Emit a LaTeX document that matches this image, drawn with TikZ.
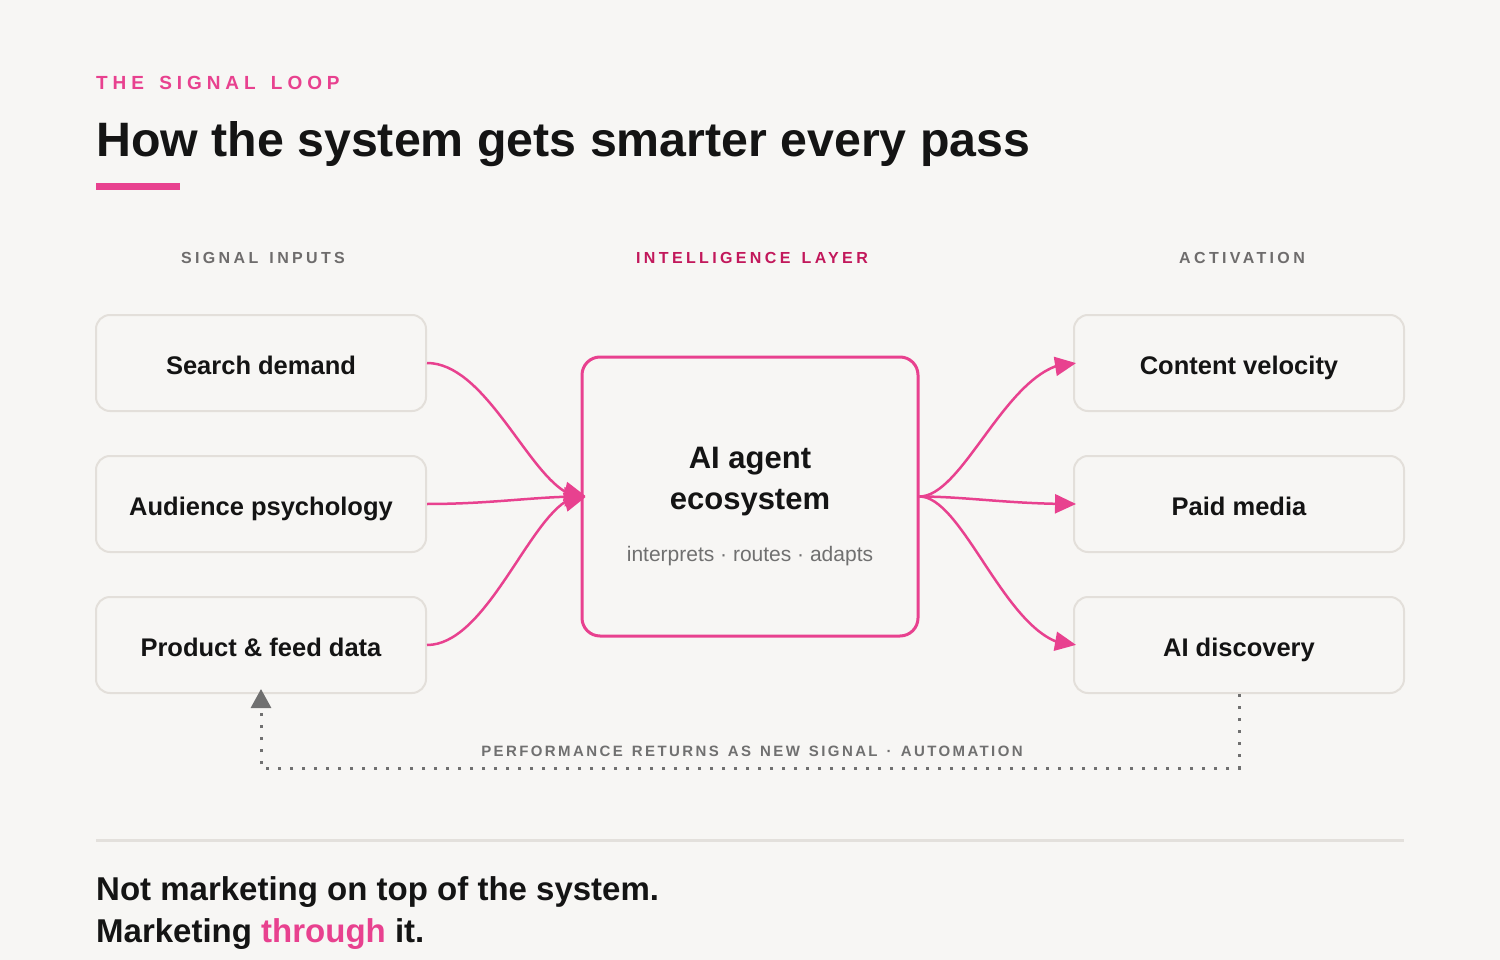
\documentclass[tikz,border=0pt]{standalone}
\usepackage{fontspec}
\setmainfont{Liberation Sans}
\usetikzlibrary{arrows.meta,bending}
\definecolor{bg}{HTML}{F7F6F4}
\definecolor{pinkc}{HTML}{E8418F}
\definecolor{magc}{HTML}{C2185B}
\definecolor{ink}{HTML}{141414}
\definecolor{greyt}{HTML}{6E6C6C}
\definecolor{subt}{HTML}{707070}
\definecolor{boxline}{HTML}{E3DFDA}
\definecolor{rulec}{HTML}{E3E0DC}
\begin{document}
\begin{tikzpicture}[x=1pt,y=-1pt,
  sidebox/.style={draw=boxline, line width=2pt, rounded corners=14pt, minimum width=330pt, minimum height=96pt, fill=bg,
    font=\fontsize{25.5}{30}\selectfont\bfseries, text=ink, text height=22pt, text depth=0pt, inner sep=0pt},
  corebox/.style={draw=pinkc, line width=3pt, rounded corners=18pt, minimum width=336pt, minimum height=279pt, fill=bg, inner sep=0pt},
  collabel/.style={anchor=base, font=\fontsize{16}{19}\selectfont\bfseries\addfontfeatures{LetterSpace=21}, text=greyt, inner sep=0pt},
  flow/.style={draw=pinkc, line width=2.5pt, -{Triangle[length=21pt,width=19pt]}},
  loopline/.style={draw=subt, line width=3pt, dash pattern=on 3pt off 9pt, -{Triangle[length=19pt,width=20pt]}},
  plain/.style={inner sep=0pt, anchor=base west}
]
\fill[bg] (0,0) rectangle (1500,960);
\useasboundingbox (0,0) rectangle (1500,960);

% header
\node[plain, text=pinkc, font=\fontsize{19}{22}\selectfont\bfseries\addfontfeatures{LetterSpace=26}] (kicker) at (96,90) {THE\hskip5pt\ SIGNAL\hskip5pt\ LOOP};
\node[plain, text=ink, font=\fontsize{48.3}{56}\selectfont\bfseries] (title) at (96,157) {How the system gets smarter every pass};
\fill[pinkc] (96,183) rectangle (180,190);

% column labels
\node[collabel] (lin) at (263,264) {SIGNAL\hskip3.3pt\ INPUTS};
\node[collabel, text=magc] (lmid) at (752,264) {INTELLIGENCE\hskip3.3pt\ LAYER};
\node[collabel] (lout) at (1242,264) {ACTIVATION};

% input boxes
\node[sidebox] (search) at (261,363) {Search demand};
\node[sidebox] (audience) at (261,504) {Audience psychology};
\node[sidebox] (product) at (261,645) {Product \& feed data};

% output boxes
\node[sidebox] (content) at (1239,363) {Content velocity};
\node[sidebox] (paid) at (1239,504) {Paid media};
\node[sidebox] (aidisc) at (1239,645) {AI discovery};

% core
\node[corebox] (ai) at (750,496.5) {};
\node[inner sep=0pt, anchor=base, text=ink, font=\fontsize{31}{36}\selectfont\bfseries] (aititle1) at (750,468) {AI agent};
\node[inner sep=0pt, anchor=base, text=ink, font=\fontsize{31}{36}\selectfont\bfseries] (aititle2) at (750,509) {ecosystem};
\node[inner sep=0pt, anchor=base, text=subt, font=\fontsize{21}{25}\selectfont] (aisub) at (750,561) {interprets · routes · adapts};

% flows in
\draw[flow, shorten >=-5pt] (search.east) .. controls +(64,0) and +(-45,0) .. (ai.west);
\draw[flow, shorten >=-5pt] (audience.east) .. controls +(64,0) and +(-45,0) .. (ai.west);
\draw[flow, shorten >=-5pt] (product.east) .. controls +(64,0) and +(-45,0) .. (ai.west);

% flows out
\draw[flow, shorten >=-3pt] (ai.east) .. controls +(45,0) and +(-64,0) .. (content.west);
\draw[flow, shorten >=-3pt] (ai.east) .. controls +(45,0) and +(-64,0) .. (paid.west);
\draw[flow, shorten >=-3pt] (ai.east) .. controls +(45,0) and +(-64,0) .. (aidisc.west);

% feedback loop
\coordinate (loopcorner) at (1239,768);
\draw[loopline, shorten >=-5pt] (aidisc.south) -- (loopcorner) -| (product.south);
\node[inner sep=0pt, anchor=base, text=subt, font=\fontsize{15}{18}\selectfont\bfseries\addfontfeatures{LetterSpace=16}] (looplabel) at (752,756) {PERFORMANCE\hskip2.5pt\ RETURNS\hskip2.5pt\ AS\hskip2.5pt\ NEW\hskip2.5pt\ SIGNAL\hskip2.5pt\ ·\hskip2.5pt\ AUTOMATION};

% rule
\draw[rulec, line width=3pt] (96,840) -- (1404,840);

% closing
\node[plain, text=ink, font=\fontsize{33}{40}\selectfont\bfseries] (close1) at (96,900) {Not marketing on top of the system.};
\node[plain, text=ink, font=\fontsize{33}{40}\selectfont\bfseries] (close2) at (96,942) {Marketing \textcolor{pinkc}{through} it.};
\end{tikzpicture}
\end{document}
